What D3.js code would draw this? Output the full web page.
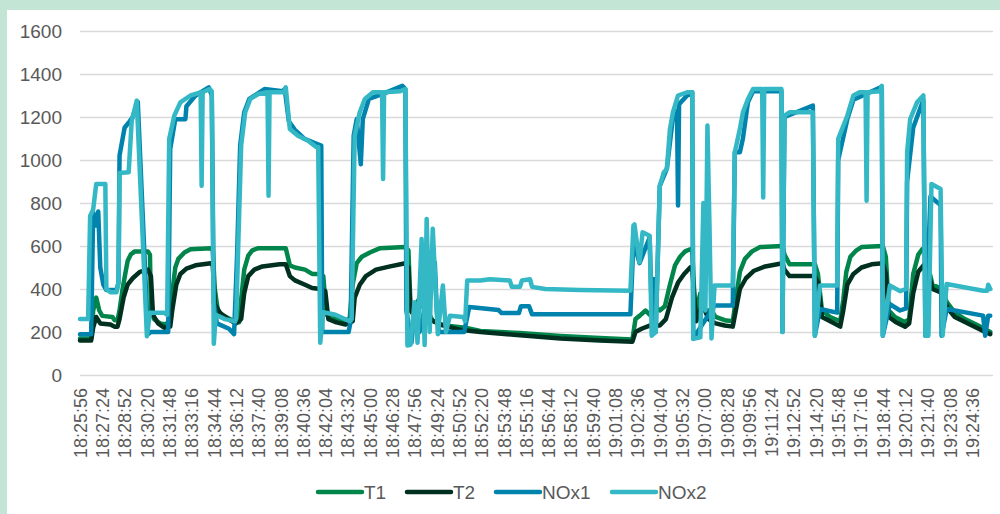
<!DOCTYPE html>
<html>
<head>
<meta charset="utf-8">
<script src="https://cdn.jsdelivr.net/npm/d3@7"></script>
<style>
  body { margin: 0; background: #c3e5d6; }
  svg { display: block; }
</style>
</head>
<body>
<svg width="1000" height="514"></svg>
<script>
// samples are logged every 4 s, one label every 22 samples
var timeLabels = ["18:25:56","18:27:24","18:28:52","18:30:20","18:31:48","18:33:16","18:34:44","18:36:12","18:37:40","18:39:08","18:40:36","18:42:04","18:43:32","18:45:00","18:46:28","18:47:56","18:49:24","18:50:52","18:52:20","18:53:48","18:55:16","18:56:44","18:58:12","18:59:40","19:01:08","19:02:36","19:04:04","19:05:32","19:07:00","19:08:28","19:09:56","19:11:24","19:12:52","19:14:20","19:15:48","19:17:16","19:18:44","19:20:12","19:21:40","19:23:08","19:24:36"];
var labelEvery = 22;
var yTicks = [0, 200, 400, 600, 800, 1000, 1200, 1400, 1600];

// [sample, value]
var t1 = [[0,170],[11,170],[13,300],[16,360],[19,300],[22,275],[32,270],[34,255],[37,255],[39,300],[42,400],[45,480],[47,530],[50,560],[54,575],[67,575],[69,560],[70,300],[73,260],[79,240],[85,235],[89,260],[91,380],[94,500],[97,540],[103,570],[109,585],[129,590],[131,580],[133,400],[136,300],[140,280],[146,265],[152,250],[157,245],[159,350],[162,490],[166,555],[170,580],[176,590],[203,590],[207,510],[212,500],[222,490],[229,470],[237,470],[240,460],[243,280],[252,260],[259,255],[266,260],[269,420],[273,520],[278,550],[286,570],[296,590],[321,595],[324,580],[326,330],[330,310],[335,360],[340,380],[343,300],[348,250],[360,230],[380,220],[395,205],[434,195],[474,182],[513,172],[545,165],[548,260],[552,275],[558,300],[562,280],[569,310],[572,300],[577,320],[582,420],[587,510],[592,550],[597,575],[602,585],[604,580],[607,280],[612,380],[617,300],[623,300],[627,270],[636,255],[644,250],[647,350],[651,480],[656,540],[663,575],[671,595],[693,600],[695,560],[700,515],[725,515],[728,470],[732,300],[740,270],[750,250],[753,350],[756,480],[760,550],[766,580],[771,595],[792,600],[795,550],[798,300],[804,270],[814,245],[818,260],[822,470],[827,560],[831,585],[834,590],[836,520],[841,420],[851,400],[855,340],[863,290],[873,260],[888,225],[898,200]];

var t2 = [[0,160],[11,160],[13,220],[16,270],[20,240],[30,235],[34,225],[37,225],[39,260],[43,360],[47,420],[52,450],[59,480],[67,490],[70,460],[72,280],[77,240],[83,220],[89,225],[91,300],[95,420],[99,470],[105,495],[114,510],[129,520],[131,510],[133,330],[138,290],[146,260],[154,240],[159,260],[162,380],[166,460],[172,490],[180,505],[197,515],[203,515],[207,460],[212,440],[222,420],[229,405],[237,400],[242,390],[245,260],[253,245],[262,235],[269,250],[271,360],[276,420],[282,460],[292,490],[306,505],[321,520],[324,500],[326,300],[331,270],[337,340],[341,320],[345,260],[355,235],[375,210],[395,200],[434,185],[474,170],[513,160],[545,155],[548,200],[554,215],[562,230],[572,230],[578,260],[584,360],[590,430],[596,470],[602,500],[604,490],[608,250],[614,330],[620,260],[627,240],[636,230],[644,225],[647,300],[651,400],[657,450],[665,485],[676,505],[693,520],[695,490],[700,460],[725,460],[728,430],[732,270],[742,245],[750,225],[753,300],[757,420],[763,470],[771,500],[781,515],[792,520],[795,470],[798,270],[805,245],[814,225],[818,240],[822,380],[827,480],[834,520],[836,490],[841,400],[851,380],[856,310],[863,270],[878,235],[893,200],[898,190]];

var nox1 = [[0,190],[11,190],[13,757],[16,695],[18,760],[20,500],[23,420],[26,395],[36,395],[38,430],[39,1020],[44,1150],[49,1180],[52,1200],[57,1270],[67,190],[70,200],[87,200],[89,1050],[94,1190],[104,1190],[105,1250],[114,1300],[127,1338],[130,1300],[132,338],[135,240],[147,215],[152,190],[155,560],[158,1067],[162,1222],[167,1284],[182,1330],[200,1320],[202,1330],[206,1180],[212,1140],[221,1100],[231,1080],[238,1067],[239,200],[265,200],[267,250],[270,1113],[273,1190],[277,980],[279,1190],[285,1284],[300,1310],[318,1345],[321,1330],[322,300],[327,150],[330,300],[335,200],[350,524],[352,300],[354,200],[379,200],[384,316],[413,302],[416,288],[433,288],[435,320],[443,320],[446,282],[543,282],[546,620],[552,520],[562,640],[564,300],[566,447],[568,200],[572,880],[579,960],[585,1200],[589,1230],[590,788],[591,1260],[599,1300],[604,1315],[605,170],[626,323],[644,323],[646,1036],[651,1036],[654,1100],[659,1270],[664,1320],[692,1320],[693,200],[695,1200],[723,1253],[725,183],[730,307],[747,290],[748,1000],[757,1190],[763,1280],[791,1340],[792,183],[799,330],[809,300],[815,310],[816,900],[822,1150],[832,1280],[834,183],[839,830],[849,790],[850,183],[855,307],[891,276],[893,183],[896,276],[898,276]];

var nox2 = [[0,260],[8,260],[10,740],[13,770],[16,888],[25,888],[26,400],[30,385],[36,385],[38,430],[39,940],[48,943],[51,1180],[56,1276],[66,180],[69,290],[83,290],[86,280],[88,1098],[93,1206],[99,1268],[109,1300],[119,1315],[120,880],[121,1315],[128,1330],[130,1320],[132,145],[134,280],[143,260],[153,250],[154,260],[159,1067],[163,1222],[168,1284],[176,1307],[185,1315],[186,834],[187,1315],[201,1315],[203,1338],[207,1144],[215,1113],[225,1090],[233,1060],[235,1060],[237,150],[240,292],[252,280],[266,250],[268,260],[271,1113],[276,1222],[281,1284],[289,1315],[298,1315],[299,912],[300,1315],[316,1320],[321,1330],[323,137],[326,140],[330,338],[333,150],[337,633],[340,140],[342,726],[345,200],[348,680],[353,190],[358,416],[361,200],[365,276],[378,270],[380,250],[382,440],[395,440],[404,445],[424,440],[426,410],[434,410],[436,440],[444,445],[446,410],[459,400],[493,395],[543,392],[546,695],[547,700],[552,524],[555,664],[562,648],[564,183],[568,200],[572,880],[576,943],[579,958],[582,1144],[585,1222],[590,1300],[599,1315],[604,1315],[605,168],[612,175],[615,800],[617,300],[619,1160],[621,700],[623,170],[626,416],[644,416],[646,1036],[651,1144],[654,1222],[659,1284],[664,1330],[673,1330],[674,826],[675,1330],[692,1330],[693,200],[695,1206],[700,1222],[723,1222],[725,183],[730,416],[747,416],[748,1098],[757,1206],[763,1300],[769,1315],[775,1315],[776,811],[777,1315],[789,1320],[791,1345],[792,183],[799,416],[809,390],[815,400],[816,1036],[819,1190],[826,1270],[832,1300],[834,183],[837,183],[840,888],[849,865],[851,183],[855,423],[891,392],[895,392],[896,420],[898,400]];

var seriesNames = ["T1", "T2", "NOx1", "NOx2"];
var seriesColors = ["#00854b", "#00301f", "#0083ad", "#34b8c6"];
var seriesData = [t1, t2, nox1, nox2];

var svg = d3.select("svg");
var width = 1000, height = 514;
var plotLeft = 80, plotRight = 993, plotTop = 31, plotBottom = 375;

svg.append("rect").attr("x", 7).attr("y", 10).attr("width", width - 7).attr("height", height - 10).attr("fill", "#ffffff");

var x = d3.scaleLinear().domain([0, (timeLabels.length - 1) * labelEvery]).range([plotLeft, 972]);
var y = d3.scaleLinear().domain([0, 1600]).range([plotBottom, plotTop]);

// gridlines + y labels
var yAxis = svg.append("g")
  .attr("transform", "translate(" + plotLeft + ",0)")
  .call(d3.axisLeft(y).tickValues(yTicks).tickFormat(d3.format("d"))
    .tickSize(-(plotRight - plotLeft)).tickPadding(18));
yAxis.select(".domain").remove();
yAxis.selectAll("line").attr("stroke", "#d9d9d9").attr("stroke-width", 1.5);
yAxis.selectAll("text")
  .attr("fill", "#595959")
  .style("font-family", "'Liberation Sans', Arial, sans-serif")
  .style("font-size", "19px");

// x labels
var xAxis = svg.append("g")
  .attr("transform", "translate(0," + plotBottom + ")")
  .call(d3.axisBottom(x)
    .tickValues(timeLabels.map(function(d, i) { return i * labelEvery; }))
    .tickFormat(function(d, i) { return timeLabels[i]; })
    .tickSize(0));
xAxis.select(".domain").remove();
xAxis.selectAll("text")
  .attr("transform", "rotate(-90)")
  .attr("text-anchor", "end")
  .attr("x", -13)
  .attr("y", 0)
  .attr("dy", "0.35em")
  .attr("fill", "#595959")
  .style("font-family", "'Liberation Sans', Arial, sans-serif")
  .style("font-size", "18px");

var line = d3.line()
  .x(function(d) { return x(d[0]); })
  .y(function(d) { return y(d[1]); });

seriesData.forEach(function(s, i) {
  svg.append("path")
    .datum(s)
    .attr("d", line)
    .attr("fill", "none")
    .attr("stroke", seriesColors[i])
    .attr("stroke-width", 4.5)
    .attr("stroke-linejoin", "round")
    .attr("stroke-linecap", "round");
});

// legend
var legendX = [318, 407, 496, 612];
var legend = svg.append("g").attr("transform", "translate(0,492)");
seriesNames.forEach(function(name, i) {
  legend.append("line")
    .attr("x1", legendX[i]).attr("x2", legendX[i] + 44)
    .attr("y1", 0).attr("y2", 0)
    .attr("stroke", seriesColors[i])
    .attr("stroke-width", 4.5)
    .attr("stroke-linecap", "round");
  legend.append("text")
    .attr("x", legendX[i] + 46)
    .attr("y", 0)
    .attr("dy", "0.35em")
    .attr("fill", "#595959")
    .style("font-family", "'Liberation Sans', Arial, sans-serif")
    .style("font-size", "19px")
    .text(name);
});
</script>
</body>
</html>
